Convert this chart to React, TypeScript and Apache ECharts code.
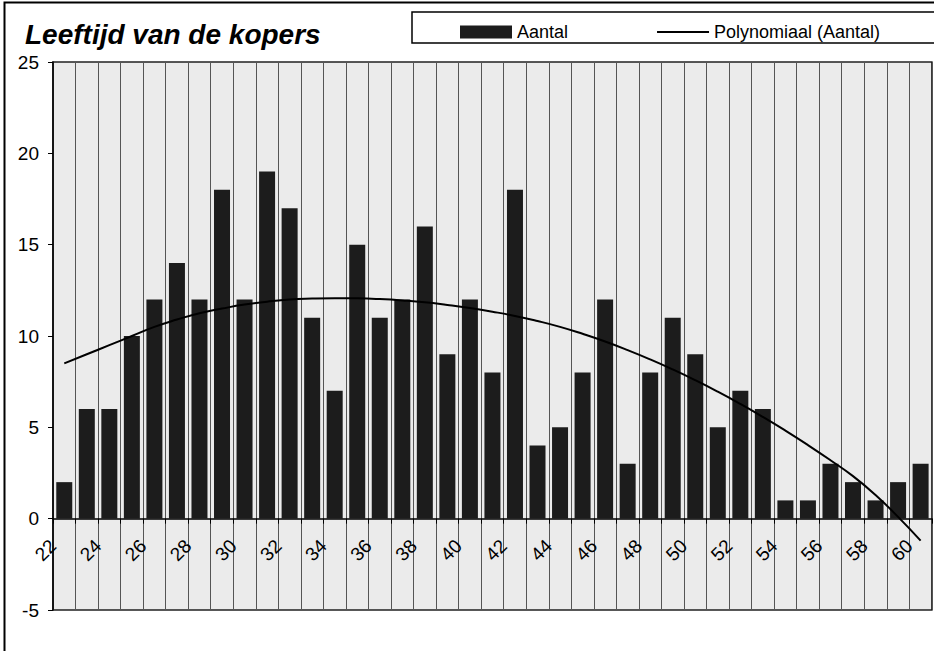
import React, { useEffect, useRef } from "react";
import * as echarts from "echarts";

// Ages (categories)
const ages = [
  "22", "23", "24", "25", "26", "27", "28", "29", "30", "31",
  "32", "33", "34", "35", "36", "37", "38", "39", "40", "41",
  "42", "43", "44", "45", "46", "47", "48", "49", "50", "51",
  "52", "53", "54", "55", "56", "57", "58", "59", "60",
];

// Number of buyers per age
const counts = [
  2, 6, 6, 10, 12, 14, 12, 18, 12, 19,
  17, 11, 7, 15, 11, 12, 16, 9, 12, 8,
  18, 4, 5, 8, 12, 3, 8, 11, 9, 5,
  7, 6, 1, 1, 3, 2, 1, 2, 3,
];

// Polynomial trend line
const trend = [
  8.5, 9.0, 9.5, 10.0, 10.5, 10.9, 11.25, 11.5, 11.72, 11.88,
  12.0, 12.05, 12.07, 12.06, 12.02, 11.95, 11.85, 11.7, 11.53, 11.33,
  11.1, 10.82, 10.5, 10.12, 9.7, 9.23, 8.72, 8.17, 7.58, 6.95,
  6.28, 5.57, 4.82, 4.03, 3.2, 2.33, 1.3, 0.1, -1.2,
];

// Tick labels on category boundaries (22 .. 61)
const boundaryLabels = [
  "22", "", "24", "", "26", "", "28", "", "30", "",
  "32", "", "34", "", "36", "", "38", "", "40", "",
  "42", "", "44", "", "46", "", "48", "", "50", "",
  "52", "", "54", "", "56", "", "58", "", "60", "",
];

const yTicks = { min: -5, max: 25, interval: 5 };

const FONT = "'Liberation Sans', Arial, sans-serif";

export default function App() {
  const ref = useRef<HTMLDivElement>(null);

  useEffect(() => {
    if (!ref.current) return;
    const chart = echarts.init(ref.current, undefined, { renderer: "svg" });
    chart.setOption({
      animation: false,
      backgroundColor: "#ffffff",
      textStyle: { fontFamily: FONT, color: "#000" },
      title: {
        text: "Leeftijd van de kopers",
        left: 20,
        top: 15,
        textStyle: {
          fontFamily: FONT,
          fontSize: 28,
          fontWeight: "bold",
          fontStyle: "italic",
          color: "#000",
        },
      },
      legend: {
        left: 455,
        top: 18,
        itemWidth: 52,
        itemHeight: 13,
        itemGap: 88,
        textStyle: { fontFamily: FONT, fontSize: 18, color: "#000" },
        data: [
          { name: "Aantal", icon: "rect" },
          {
            name: "Polynomiaal (Aantal)",
            itemStyle: { opacity: 0, color: "rgba(0,0,0,0)", borderWidth: 0 },
            lineStyle: { color: "#000", width: 2 },
          },
        ],
      },
      graphic: [
        {
          type: "rect",
          z: 0,
          shape: { x: 4.5, y: 2.5, width: 950, height: 670 },
          style: { fill: "none", stroke: "#000", lineWidth: 2 },
          silent: true,
        },
        {
          type: "rect",
          z: 0,
          shape: { x: 412, y: 12, width: 540, height: 31 },
          style: { fill: "#ffffff", stroke: "#000", lineWidth: 1.5 },
          silent: true,
        },
      ],
      grid: {
        left: 53,
        right: 0,
        top: 62,
        bottom: 41,
        show: true,
        backgroundColor: "#ebebeb",
        borderColor: "#222",
        borderWidth: 1.5,
      },
      xAxis: [
        {
          type: "category",
          data: ages,
          boundaryGap: true,
          axisLine: { onZero: true, lineStyle: { color: "#000", width: 1.5 } },
          axisTick: { show: true, length: 5, lineStyle: { color: "#000" }, interval: 0 },
          axisLabel: { show: false },
          splitLine: {
            show: true,
            interval: 0,
            lineStyle: { color: "#555", width: 1 },
          },
        },
        {
          type: "category",
          data: boundaryLabels,
          boundaryGap: false,
          position: "bottom",
          offset: -91.3,
          axisLine: { show: false, onZero: false },
          axisTick: { show: false },
          splitLine: { show: false },
          axisLabel: {
            show: true,
            interval: 0,
            rotate: 45,
            margin: 24,
            fontFamily: FONT,
            fontSize: 19,
            color: "#000",
          },
        },
      ],
      yAxis: {
        type: "value",
        min: yTicks.min,
        max: yTicks.max,
        interval: yTicks.interval,
        axisLine: { show: true, lineStyle: { color: "#000", width: 1.5 } },
        axisTick: { show: true, length: 5, lineStyle: { color: "#000" } },
        splitLine: { show: false },
        axisLabel: {
          margin: 14,
          fontFamily: FONT,
          fontSize: 19,
          color: "#000",
        },
      },
      series: [
        {
          name: "Aantal",
          type: "bar",
          xAxisIndex: 0,
          data: counts,
          barWidth: 16,
          itemStyle: { color: "#1c1c1c" },
        },
        {
          name: "Polynomiaal (Aantal)",
          type: "line",
          xAxisIndex: 0,
          data: trend,
          smooth: true,
          symbol: "none",
          lineStyle: { color: "#000", width: 2 },
          itemStyle: { color: "#000" },
          z: 5,
        },
      ],
    });
    return () => chart.dispose();
  }, []);

  return (
    <div
      ref={ref}
      style={{ position: "fixed", left: 0, top: 0, width: 934, height: 651 }}
    />
  );
}
